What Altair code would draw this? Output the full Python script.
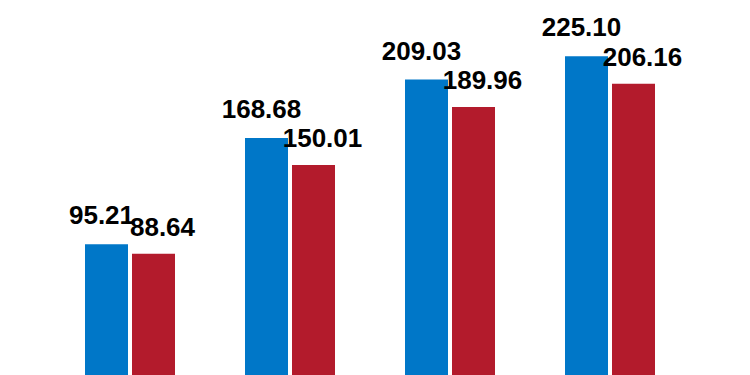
import altair as alt
import pandas as pd

groups = ["G1", "G2", "G3", "G4"]
series_a = [95.21, 168.68, 209.03, 225.10]
series_b = [88.64, 150.01, 189.96, 206.16]
series_names = ["A", "B"]
colors = ["#0077C8", "#B31B2C"]

rows = []
for g, a, b in zip(groups, series_a, series_b):
    rows.append({"group": g, "series": "A", "value": a, "label": f"{a:.2f}"})
    rows.append({"group": g, "series": "B", "value": b, "label": f"{b:.2f}"})
df = pd.DataFrame(rows)

x = alt.X("group:N", sort=groups, axis=None,
          scale=alt.Scale(paddingInner=0.4375, paddingOuter=0.53125))
xo = alt.XOffset("series:N", sort=series_names,
                 scale=alt.Scale(paddingInner=4/47, paddingOuter=0))
y = alt.Y("value:Q", axis=None, scale=alt.Scale(domain=[4.8, 264], zero=False, nice=False))

base = alt.Chart(df)

bars = base.mark_bar(clip=True).encode(
    x=x, xOffset=xo, y=y, y2=alt.datum(0),
    color=alt.Color("series:N", sort=series_names,
                    scale=alt.Scale(domain=series_names, range=colors), legend=None),
)

txt_a = base.transform_filter(alt.datum.series == "A").mark_text(
    font="Liberation Sans", fontWeight="bold", fontSize=26, color="#000000",
    baseline="alphabetic", dy=-20, dx=-5,
).encode(x=x, xOffset=xo, y=y, text="label:N")

txt_b = base.transform_filter(alt.datum.series == "B").mark_text(
    font="Liberation Sans", fontWeight="bold", fontSize=26, color="#000000",
    baseline="alphabetic", dy=-18, dx=9,
).encode(x=x, xOffset=xo, y=y, text="label:N")

chart = alt.layer(bars, txt_a, txt_b).properties(
    width=740, height=375, padding=0, autosize=alt.AutoSizeParams(type="none"),
    background="#ffffff",
).configure_view(stroke=None)

chart.save("out.html", embed_options={"renderer": "svg", "actions": False})
